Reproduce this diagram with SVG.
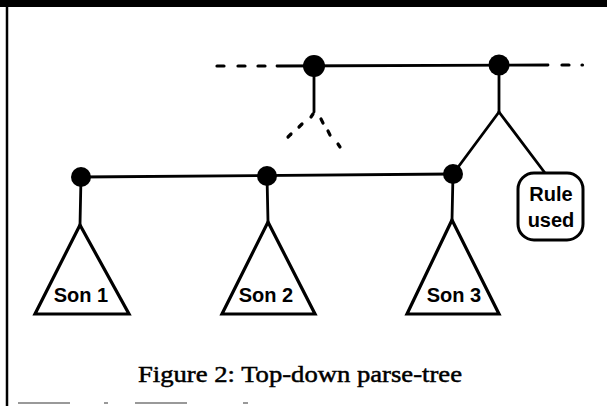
<svg xmlns="http://www.w3.org/2000/svg" width="607" height="406" viewBox="0 0 607 406">
<style>
.ln{stroke:#000;stroke-width:2.8;fill:none;stroke-linecap:round}
.dash{stroke:#000;stroke-width:3.2;fill:none;stroke-linecap:round}
.dot{fill:#000}
.tri{stroke:#000;stroke-width:3.2;fill:#fff;stroke-linejoin:miter}
.lbl{font-family:"Liberation Sans",Arial,sans-serif;font-weight:bold;font-size:20px;fill:#000;text-anchor:middle}
.cap{font-family:"Liberation Serif","Times New Roman",serif;font-size:24px;fill:#000;stroke:#000;stroke-width:0.5}
</style>
<rect x="0" y="0" width="607" height="406" fill="#fff"/>
<rect x="0" y="0" width="607" height="7" fill="#000"/>
<line x1="7" y1="0" x2="7" y2="406" stroke="#000" stroke-width="2.5"/>
<g stroke="#999" stroke-width="2">
<line x1="18" y1="403" x2="70" y2="403"/>
<line x1="104" y1="403" x2="108" y2="403"/>
<line x1="135" y1="403" x2="187" y2="403"/>
<line x1="243" y1="403" x2="248" y2="403"/>
</g>
<g id="connectors">
<line class="dash" x1="217" y1="66" x2="224" y2="66"/>
<line class="dash" x1="238" y1="66" x2="245" y2="66"/>
<line class="dash" x1="258" y1="66" x2="265" y2="66"/>
<line class="ln" x1="277" y1="66" x2="548" y2="65"/>
<line class="dash" x1="562" y1="65" x2="569" y2="65"/>
<line class="dash" x1="582" y1="65" x2="582.5" y2="65"/>
<line class="ln" x1="314" y1="66" x2="314" y2="112"/>
<line class="dash" x1="313" y1="114" x2="311" y2="117"/>
<line class="dash" x1="302" y1="124" x2="299" y2="127"/>
<line class="dash" x1="291" y1="134" x2="288" y2="137"/>
<line class="dash" x1="321" y1="119" x2="323" y2="123"/>
<line class="dash" x1="328" y1="131" x2="330" y2="135"/>
<line class="dash" x1="338" y1="144" x2="340" y2="147"/>
<line class="ln" x1="499" y1="65" x2="499" y2="112"/>
<line class="ln" x1="499" y1="112" x2="453" y2="174"/>
<line class="ln" x1="499" y1="112" x2="545" y2="173"/>
<line class="ln" x1="81" y1="177" x2="453" y2="174"/>
<line class="ln" x1="81" y1="177" x2="80" y2="225"/>
<line class="ln" x1="267" y1="176" x2="268" y2="222"/>
<line class="ln" x1="453" y1="174" x2="452" y2="220"/>
</g>
<g id="top-node-1"><circle class="dot" cx="314" cy="66" r="11"/></g>
<g id="top-node-2"><circle class="dot" cx="499" cy="65" r="10.5"/></g>
<g id="node-1"><circle class="dot" cx="81" cy="177" r="10"/></g>
<g id="node-2"><circle class="dot" cx="267" cy="176" r="10"/></g>
<g id="node-3"><circle class="dot" cx="453" cy="174" r="10"/></g>
<g id="son-1">
<polygon class="tri" points="80,225 129,314 35,314"/>
<text class="lbl" x="81" y="302">Son 1</text>
</g>
<g id="son-2">
<polygon class="tri" points="268,222 315,314 222,314"/>
<text class="lbl" x="266" y="302">Son 2</text>
</g>
<g id="son-3">
<polygon class="tri" points="452,220 499,314 407,314"/>
<text class="lbl" x="454" y="302">Son 3</text>
</g>
<g id="rule-used">
<rect x="518" y="173" width="65" height="67" rx="16" ry="16" fill="#fff" stroke="#000" stroke-width="3"/>
<text class="lbl" x="551" y="201">Rule</text>
<text class="lbl" x="551" y="227">used</text>
</g>
<text class="cap" x="138" y="382" textLength="324" lengthAdjust="spacingAndGlyphs">Figure 2:  Top-down parse-tree</text>
</svg>
